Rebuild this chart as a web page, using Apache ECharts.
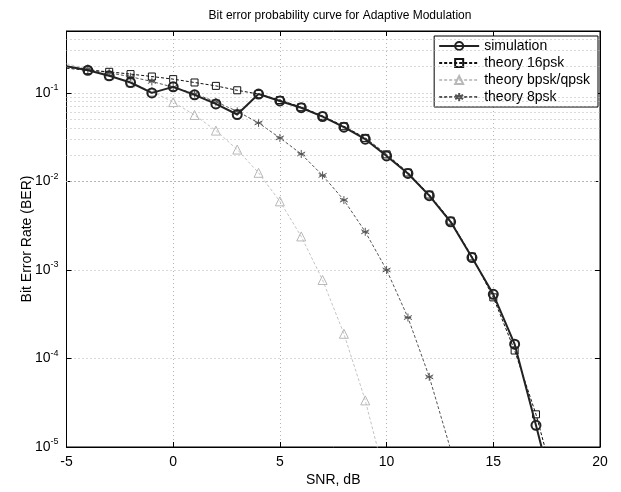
<!DOCTYPE html>
<html>
<head>
<meta charset="utf-8">
<script src="https://cdn.jsdelivr.net/npm/echarts@6/dist/echarts.min.js"></script>
<style>
  html, body { margin: 0; padding: 0; background: #fff; }
  #chart { width: 621px; height: 492px; }
</style>
</head>
<body>
<div id="chart"></div>
<script>
// 信噪比 (dB)
var snr = [-5, -4, -3, -2, -1, 0, 1, 2, 3, 4, 5, 6, 7, 8, 9, 10, 11, 12, 13, 14, 15, 16, 17, 18];
// 各曲线读数
var simulation = [0.20, 0.18, 0.156, 0.131, 0.10, 0.117, 0.095, 0.075, 0.057, 0.097, 0.081, 0.068, 0.054, 0.041, 0.030, 0.0194, 0.0123, 0.0069, 0.0035, 0.00138, 0.00053, 0.000145, 0.0000176, 0.000002];
var theory16psk = [0.19, 0.18, 0.173, 0.163, 0.153, 0.143, 0.131, 0.12, 0.107, 0.097, 0.083, 0.069, 0.055, 0.042, 0.031, 0.0202, 0.0126, 0.0071, 0.0036, 0.00142, 0.00049, 0.000123, 0.0000234, 0.000003];
var theoryBpsk = [0.213, 0.186, 0.158, 0.131, 0.104, 0.0786, 0.0563, 0.0375, 0.0229, 0.0125, 0.00595, 0.00239, 0.00077, 0.00019, 0.0000336, 0.0000039, null, null, null, null, null, null, null, null];
var theory8psk = [0.199, 0.185, 0.169, 0.152, 0.1345, 0.116, 0.0977, 0.0793, 0.0619, 0.0458, 0.031, 0.0204, 0.0117, 0.00615, 0.0027, 0.001, 0.00029, 0.000062, 0.0000094, null, null, null, null, null];
// 纵轴次网格 (每个十倍程的 2..9)
var decades = [-5, -4, -3, -2, -1];
var minorSteps = [2, 3, 4, 5, 6, 7, 8, 9];

var FONT = 'Liberation Sans';

function pairs(vals) {
    var out = [];
    snr.forEach(function (x, i) {
        if (vals[i] == null) return;
        // 左边界上的点不画标记
        if (i === 0) out.push({ value: [x, vals[i]], symbol: 'none' });
        else out.push([x, vals[i]]);
    });
    return out;
}

var minorLines = [];
decades.forEach(function (d) {
    minorSteps.forEach(function (k) {
        var v = k * Math.pow(10, d);
        if (v < 0.5) minorLines.push({ yAxis: v });
    });
});

var chart = echarts.init(document.getElementById('chart'));

var gridStyle = { color: '#b4b4b4', width: 1, type: [1, 3] };

var option = {
    backgroundColor: '#fff',
    animation: false,
    title: {
        text: 'Bit error probability curve for Adaptive Modulation',
        left: 335, textAlign: 'center', top: 5,
        textStyle: { fontFamily: FONT, fontSize: 12, fontWeight: 'normal', color: '#000' }
    },
    legend: {
        orient: 'vertical',
        right: 23, top: 36,
        backgroundColor: '#fff',
        borderColor: '#000', borderWidth: 1,
        padding: [3, 8, 3, 4],
        itemGap: 3,
        itemWidth: 40, itemHeight: 10,
        textStyle: { fontFamily: FONT, fontSize: 14, color: '#000' },
        data: ['simulation', 'theory 16psk', 'theory bpsk/qpsk', 'theory 8psk']
    },
    grid: {
        left: 66.5, right: 21, top: 31, bottom: 40,
        show: true, borderColor: '#000', borderWidth: 1
    },
    xAxis: [{
        type: 'value', min: -5, max: 20, interval: 5,
        name: 'SNR, dB', nameLocation: 'middle', nameGap: 26, nameMoveOverlap: false,
        nameTextStyle: { fontFamily: FONT, fontSize: 14, color: '#000' },
        axisLine: { onZero: false, lineStyle: { color: '#000' } },
        axisTick: { inside: true, length: 5, lineStyle: { color: '#000' } },
        axisLabel: { fontFamily: FONT, fontSize: 14, color: '#000', margin: 8 },
        splitLine: { show: true, lineStyle: gridStyle }
    }, {
        type: 'value', min: -5, max: 20, interval: 5, position: 'top',
        axisLine: { onZero: false, lineStyle: { color: '#000' } },
        axisTick: { inside: true, length: 5, lineStyle: { color: '#000' } },
        axisLabel: { show: false },
        splitLine: { show: false }
    }],
    yAxis: [{
        type: 'log', logBase: 10, min: 1e-5, max: 0.5,
        name: 'Bit Error Rate (BER)', nameLocation: 'middle', nameGap: 32, nameMoveOverlap: false,
        nameTextStyle: { fontFamily: FONT, fontSize: 14, color: '#000' },
        axisLine: { show: true, onZero: false, lineStyle: { color: '#000' } },
        axisTick: { inside: true, length: 5, lineStyle: { color: '#000' } },
        axisLabel: {
            margin: 8,
            formatter: function (v) {
                var e = Math.log10(v);
                if (Math.abs(e - Math.round(e)) > 1e-6) return '';
                return '{b|10}{s|' + Math.round(e) + '}';
            },
            rich: {
                b: { fontFamily: FONT, fontSize: 14, color: '#000' },
                s: { fontFamily: FONT, fontSize: 9, color: '#000', padding: [0, 0, 10, 0] }
            }
        },
        splitLine: { show: true, lineStyle: gridStyle }
    }, {
        type: 'log', logBase: 10, min: 1e-5, max: 0.5, position: 'right',
        axisLine: { show: true, onZero: false, lineStyle: { color: '#000' } },
        axisTick: { inside: true, length: 5, lineStyle: { color: '#000' } },
        axisLabel: { show: false },
        splitLine: { show: false }
    }],
    series: [{
        name: 'theory bpsk/qpsk',
        type: 'line', data: pairs(theoryBpsk), clip: true,
        symbol: 'triangle', symbolSize: 9,
        lineStyle: { color: '#c4c4c4', width: 1, type: [3, 2] },
        itemStyle: { color: 'transparent', borderColor: '#b8b8b8', borderWidth: 1 },
        markLine: {
            silent: true, symbol: 'none', label: { show: false },
            lineStyle: gridStyle, data: minorLines
        },
        z: 2
    }, {
        name: 'theory 8psk',
        type: 'line', data: pairs(theory8psk), clip: true,
        symbol: 'path://M0,-1L0,1M-0.87,-0.5L0.87,0.5M-0.87,0.5L0.87,-0.5M-0.7,0L0.7,0',
        symbolSize: 8,
        lineStyle: { color: '#555', width: 1, type: [3, 2] },
        itemStyle: { color: 'none', borderColor: '#555', borderWidth: 1 },
        z: 3
    }, {
        name: 'theory 16psk',
        type: 'line', data: pairs(theory16psk), clip: true,
        symbol: 'rect', symbolSize: 7,
        lineStyle: { color: '#111', width: 1, type: [3, 2] },
        itemStyle: { color: 'transparent', borderColor: '#111', borderWidth: 1 },
        z: 4
    }, {
        name: 'simulation',
        type: 'line', data: pairs(simulation), clip: true,
        symbol: 'circle', symbolSize: 9,
        lineStyle: { color: '#222', width: 2 },
        itemStyle: { color: 'transparent', borderColor: '#222', borderWidth: 2 },
        z: 5
    }]
};

chart.setOption(option);
</script>
</body>
</html>
